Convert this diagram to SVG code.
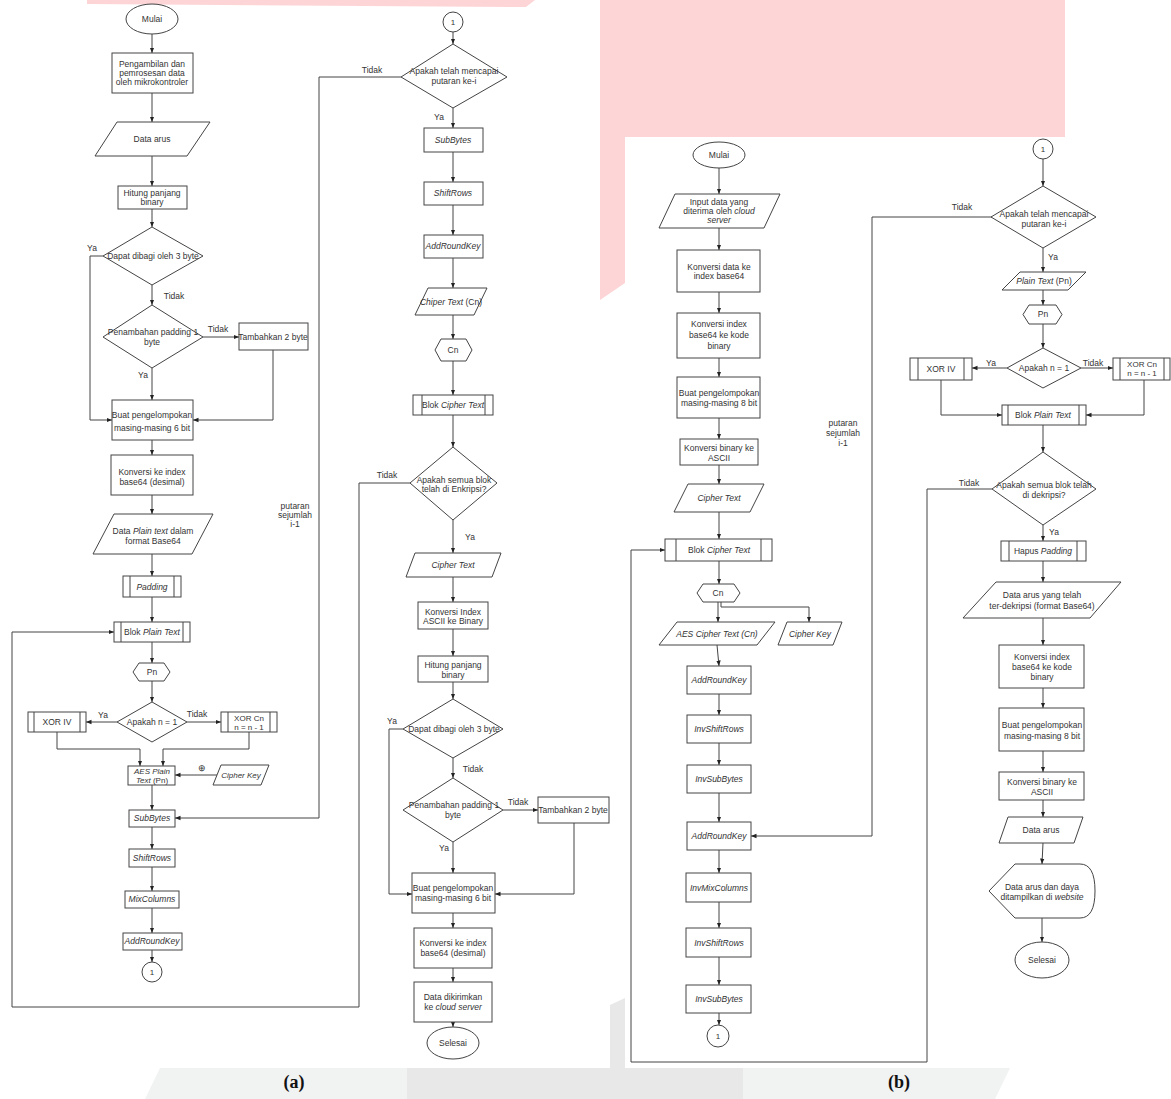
<svg xmlns="http://www.w3.org/2000/svg" width="1171" height="1099" viewBox="0 0 1171 1099">
<defs>
<marker id="ah" viewBox="0 0 10 10" refX="10" refY="5" markerWidth="5.5" markerHeight="5.5" orient="auto"><path d="M0,1 L10,5 L0,9 z" fill="#222"/></marker>
<style>
.bg{stroke:none}
.sh{fill:#fff;stroke:#444;stroke-width:1}
.ln{fill:none;stroke:#444;stroke-width:1}
.ar{fill:none;stroke:#444;stroke-width:1;marker-end:url(#ah)}
.t{font-family:"Liberation Sans",Arial,sans-serif;font-size:8.5px;fill:#333;text-anchor:middle}
.s{font-size:8px}
.i{font-style:italic}
.cap{font-family:"Liberation Serif","Times New Roman",serif;font-size:18px;font-weight:bold;fill:#111;text-anchor:middle}
</style>
</defs>
<rect width="1171" height="1099" fill="#fff"/>
<g id="background">
<polygon class="bg" fill="#fdd5d7" points="87,0 535,0 526,7 87,4"/>
<polygon class="bg" fill="#fdd5d7" points="600,0 1065,0 1065,137 625,137 625,283 600,300"/>
<polygon class="bg" fill="#f1f2f2" points="160,1068 1010,1068 995,1099 145,1099"/>
<polygon class="bg" fill="#e8e8e8" points="407,1068 743,1068 743,1099 407,1099"/>
<polygon class="bg" fill="#e8e8e8" points="610,1005 625,998 625,1068 610,1068"/>
</g>
<g id="connectors">
<path class="ar" d="M152,34 V53"/>
<path class="ar" d="M152,93 V122"/>
<path class="ar" d="M152,156 V186"/>
<path class="ar" d="M152,209 V227"/>
<path class="ar" d="M103,256 H90 V420 H112"/>
<path class="ar" d="M152,285 V305"/>
<path class="ar" d="M203,337 H239"/>
<path class="ar" d="M273,350 V420 H193"/>
<path class="ar" d="M152,368 V400"/>
<path class="ar" d="M152,440 V455"/>
<path class="ar" d="M152,495 V514"/>
<path class="ar" d="M152,554 V576"/>
<path class="ar" d="M152,597 V622"/>
<path class="ar" d="M152,642 V663"/>
<path class="ar" d="M152,681 V702"/>
<path class="ar" d="M117,722 H86"/>
<path class="ar" d="M187,722 H221"/>
<path class="ar" d="M57,732 V749 H140 V766"/>
<path class="ar" d="M249,732 V749 H163 V766"/>
<path class="ar" d="M217,775 H175"/>
<path class="ar" d="M152,785 V810"/>
<path class="ar" d="M152,827 V849"/>
<path class="ar" d="M152,867 V891"/>
<path class="ar" d="M152,908 V933"/>
<path class="ar" d="M152,950 V962"/>
<path class="ar" d="M401,77 H319 V818 H175"/>
<path class="ar" d="M410,483 H359 V1007 H12 V632 H114"/>
<path class="ar" d="M453,32 V44"/>
<path class="ar" d="M453,108 V128"/>
<path class="ar" d="M453,152 V182"/>
<path class="ar" d="M453,205 V235"/>
<path class="ar" d="M453,258 V288"/>
<path class="ar" d="M453,315 V339"/>
<path class="ar" d="M453,361 V395"/>
<path class="ar" d="M453,415 V447"/>
<path class="ar" d="M453,520 V553"/>
<path class="ar" d="M453,577 V602"/>
<path class="ar" d="M453,629 V656"/>
<path class="ar" d="M453,682 V699"/>
<path class="ar" d="M403,729 H389 V894 H412"/>
<path class="ar" d="M453,758 V778"/>
<path class="ar" d="M503,810 H538"/>
<path class="ar" d="M574,823 V894 H495"/>
<path class="ar" d="M453,842 V873"/>
<path class="ar" d="M453,913 V928"/>
<path class="ar" d="M453,968 V982"/>
<path class="ar" d="M453,1022 V1027"/>
<path class="ar" d="M719,168 V194"/>
<path class="ar" d="M719,228 V250"/>
<path class="ar" d="M719,292 V313"/>
<path class="ar" d="M719,358 V377"/>
<path class="ar" d="M719,418 V439"/>
<path class="ar" d="M719,465 V484"/>
<path class="ar" d="M719,512 V539"/>
<path class="ar" d="M992,489 H927 V1062 H631 V550 H665"/>
<path class="ar" d="M719,561 V584"/>
<path class="ar" d="M718,602 V622"/>
<path class="ar" d="M721,602 V607 H809 V622"/>
<path class="ar" d="M717,645 L719,666"/>
<path class="ar" d="M719,694 V715"/>
<path class="ar" d="M719,743 V765"/>
<path class="ar" d="M719,793 V822"/>
<path class="ar" d="M992,217 H872 V836 H751"/>
<path class="ar" d="M719,850 V873"/>
<path class="ar" d="M719,902 V928"/>
<path class="ar" d="M719,957 V985"/>
<path class="ar" d="M719,1013 V1025"/>
<path class="ar" d="M1043,159 V186"/>
<path class="ar" d="M1043,248 V272"/>
<path class="ar" d="M1043,290 V305"/>
<path class="ar" d="M1043,324 V348"/>
<path class="ar" d="M1007,368 H972"/>
<path class="ar" d="M1081,368 H1113"/>
<path class="ar" d="M941,380 V415 H1002"/>
<path class="ar" d="M1144,380 V415 H1086"/>
<path class="ar" d="M1043,425 V452"/>
<path class="ar" d="M1043,525 V541"/>
<path class="ar" d="M1043,561 V582"/>
<path class="ar" d="M1043,618 V645"/>
<path class="ar" d="M1043,688 V708"/>
<path class="ar" d="M1043,751 V772"/>
<path class="ar" d="M1043,800 V817"/>
<path class="ar" d="M1043,843 L1042,864"/>
<path class="ar" d="M1042,918 V942"/>
</g>
<g id="labels">
<text class="t" x="92" y="251">Ya</text>
<text class="t" x="174" y="299">Tidak</text>
<text class="t" x="218" y="332">Tidak</text>
<text class="t" x="143" y="378">Ya</text>
<text class="t" x="103" y="718">Ya</text>
<text class="t" x="197" y="717">Tidak</text>
<text class="t" x="202" y="771" style="font-size:9px">⊕</text>
<text class="t" x="372" y="73">Tidak</text>
<text class="t" x="439" y="120">Ya</text>
<text class="t" x="387" y="478">Tidak</text>
<text class="t" x="470" y="540">Ya</text>
<text class="t" x="392" y="724">Ya</text>
<text class="t" x="473" y="772">Tidak</text>
<text class="t" x="518" y="805">Tidak</text>
<text class="t" x="444" y="851">Ya</text>
<text class="t" x="295" y="509">putaran</text>
<text class="t" x="295" y="518">sejumlah</text>
<text class="t" x="295" y="527">i-1</text>
<text class="t" x="843" y="426">putaran</text>
<text class="t" x="843" y="436">sejumlah</text>
<text class="t" x="843" y="446">i-1</text>
<text class="t" x="962" y="210">Tidak</text>
<text class="t" x="1053" y="260">Ya</text>
<text class="t" x="991" y="366">Ya</text>
<text class="t" x="1093" y="366">Tidak</text>
<text class="t" x="969" y="486">Tidak</text>
<text class="t" x="1054" y="535">Ya</text>
<text class="cap" x="294" y="1088">(a)</text>
<text class="cap" x="899" y="1088">(b)</text>
</g>
<g id="a-mulai"><ellipse class="sh" cx="152" cy="19" rx="26" ry="15"/><text class="t" x="152" y="22">Mulai</text></g>
<g id="a-ambil"><rect class="sh" x="112" y="53" width="81" height="40"/><text class="t" x="152" y="67">Pengambilan dan</text><text class="t" x="152" y="76">pemrosesan data</text><text class="t" x="152" y="85">oleh mikrokontroler</text></g>
<g id="a-dataarus"><polygon class="sh" points="117,122 210,122 187,156 95,156"/><text class="t" x="152" y="142">Data arus</text></g>
<g id="a-hitung"><rect class="sh" x="118" y="186" width="69" height="23"/><text class="t" x="152" y="196">Hitung panjang</text><text class="t" x="152" y="205">binary</text></g>
<g id="a-dapat"><polygon class="sh" points="152,227 203,256 152,285 103,256"/><text class="t" x="153" y="259">Dapat dibagi oleh 3 byte</text></g>
<g id="a-penambahan"><polygon class="sh" points="152,305 203,337 152,368 103,337"/><text class="t" x="153" y="335">Penambahan padding 1</text><text class="t" x="152" y="345">byte</text></g>
<g id="a-tambah"><rect class="sh" x="239" y="323" width="69" height="27"/><text class="t" x="273" y="340">Tambahkan 2 byte</text></g>
<g id="a-buat"><rect class="sh" x="112" y="400" width="81" height="40"/><text class="t" x="152" y="418">Buat pengelompokan</text><text class="t" x="152" y="431">masing-masing 6 bit</text></g>
<g id="a-konversi"><rect class="sh" x="111" y="455" width="82" height="40"/><text class="t" x="152" y="475">Konversi ke index</text><text class="t" x="152" y="485">base64 (desimal)</text></g>
<g id="a-dataplain"><polygon class="sh" points="114,514 213,514 192,554 93,554"/><text class="t" x="153" y="534">Data <tspan class="i">Plain text</tspan> dalam</text><text class="t" x="153" y="544">format Base64</text></g>
<g id="a-padding"><rect class="sh" x="123" y="576" width="58" height="21"/><path class="ln" d="M130,576 V597 M174,576 V597"/><text class="t i" x="152" y="590">Padding</text></g>
<g id="a-blokplain"><rect class="sh" x="114" y="622" width="76" height="20"/><path class="ln" d="M121,622 V642 M183,622 V642"/><text class="t" x="152" y="635">Blok <tspan class="i">Plain Text</tspan></text></g>
<g id="a-pn"><polygon class="sh" points="139,663 164,663 170,672 164,681 139,681 133,672"/><text class="t" x="152" y="675">Pn</text></g>
<g id="a-apakahn"><polygon class="sh" points="152,702 187,722 152,742 117,722"/><text class="t" x="152" y="725">Apakah n = 1</text></g>
<g id="a-xoriv"><rect class="sh" x="28" y="712" width="58" height="20"/><path class="ln" d="M34,712 V732 M80,712 V732"/><text class="t" x="57" y="725">XOR IV</text></g>
<g id="a-xorcn"><rect class="sh" x="221" y="712" width="56" height="20"/><path class="ln" d="M228,712 V732 M270,712 V732"/><text class="t s" x="249" y="721">XOR Cn</text><text class="t s" x="249" y="730">n = n - 1</text></g>
<g id="a-aesplain"><rect class="sh" x="128" y="766" width="47" height="19"/><text class="t s i" x="152" y="774">AES Plain</text><text class="t s" x="152" y="783"><tspan class="i">Text</tspan> (Pn)</text></g>
<g id="a-cipherkey"><polygon class="sh" points="221,765 269,765 261,785 213,785"/><text class="t s i" x="241" y="778">Cipher Key</text></g>
<g id="a-subbytes"><rect class="sh" x="129" y="810" width="46" height="17"/><text class="t i" x="152" y="821">SubBytes</text></g>
<g id="a-shiftrows"><rect class="sh" x="129" y="849" width="46" height="18"/><text class="t i" x="152" y="861">ShiftRows</text></g>
<g id="a-mixcolumns"><rect class="sh" x="125" y="891" width="54" height="17"/><text class="t i" x="152" y="902">MixColumns</text></g>
<g id="a-addroundkey"><rect class="sh" x="123" y="933" width="59" height="17"/><text class="t i" x="152" y="944">AddRoundKey</text></g>
<g id="a-con1"><circle class="sh" cx="152" cy="972" r="10"/><text class="t s" x="152" y="975">1</text></g>
<g id="a2-con1"><circle class="sh" cx="453" cy="22" r="10"/><text class="t s" x="453" y="25">1</text></g>
<g id="a2-putaran"><polygon class="sh" points="453,44 507,77 453,108 401,77"/><text class="t" x="454" y="74">Apakah telah mencapai</text><text class="t" x="454" y="84">putaran ke-i</text></g>
<g id="a2-subbytes"><rect class="sh" x="424" y="128" width="59" height="24"/><text class="t i" x="453" y="143">SubBytes</text></g>
<g id="a2-shiftrows"><rect class="sh" x="424" y="182" width="59" height="23"/><text class="t i" x="453" y="196">ShiftRows</text></g>
<g id="a2-addroundkey"><rect class="sh" x="424" y="235" width="59" height="23"/><text class="t i" x="453" y="249">AddRoundKey</text></g>
<g id="a2-chiper"><polygon class="sh" points="428,288 487,288 474,315 415,315"/><text class="t" x="451" y="305"><tspan class="i">Chiper Text</tspan> (Cn)</text></g>
<g id="a2-cn"><polygon class="sh" points="441,339 466,339 472,350 466,361 441,361 435,350"/><text class="t" x="453" y="353">Cn</text></g>
<g id="a2-blokcipher"><rect class="sh" x="413" y="395" width="80" height="20"/><path class="ln" d="M422,395 V415 M485,395 V415"/><text class="t" x="453" y="408">Blok <tspan class="i">Cipher Text</tspan></text></g>
<g id="a2-semua"><polygon class="sh" points="453,447 497,483 453,520 410,483"/><text class="t" x="454" y="483">Apakah semua blok</text><text class="t" x="454" y="492">telah di Enkripsi?</text></g>
<g id="a2-ciphertext"><polygon class="sh" points="415,553 501,553 492,577 406,577"/><text class="t i" x="453" y="568">Cipher Text</text></g>
<g id="a2-konvascii"><rect class="sh" x="418" y="602" width="70" height="27"/><text class="t" x="453" y="615">Konversi Index</text><text class="t" x="453" y="624">ASCII ke Binary</text></g>
<g id="a2-hitung"><rect class="sh" x="418" y="656" width="70" height="26"/><text class="t" x="453" y="668">Hitung panjang</text><text class="t" x="453" y="678">binary</text></g>
<g id="a2-dapat"><polygon class="sh" points="453,699 503,729 453,758 403,729"/><text class="t" x="454" y="732">Dapat dibagi oleh 3 byte</text></g>
<g id="a2-penambahan"><polygon class="sh" points="453,778 503,810 453,842 403,810"/><text class="t" x="454" y="808">Penambahan padding 1</text><text class="t" x="453" y="818">byte</text></g>
<g id="a2-tambah"><rect class="sh" x="538" y="797" width="71" height="26"/><text class="t" x="573" y="813">Tambahkan 2 byte</text></g>
<g id="a2-buat"><rect class="sh" x="412" y="873" width="83" height="40"/><text class="t" x="453" y="891">Buat pengelompokan</text><text class="t" x="453" y="901">masing-masing 6 bit</text></g>
<g id="a2-konversi"><rect class="sh" x="414" y="928" width="78" height="40"/><text class="t" x="453" y="946">Konversi ke index</text><text class="t" x="453" y="956">base64 (desimal)</text></g>
<g id="a2-kirim"><rect class="sh" x="414" y="982" width="78" height="40"/><text class="t" x="453" y="1000">Data dikirimkan</text><text class="t" x="453" y="1010">ke <tspan class="i">cloud server</tspan></text></g>
<g id="a2-selesai"><ellipse class="sh" cx="453" cy="1043" rx="26" ry="16"/><text class="t" x="453" y="1046">Selesai</text></g>
<g id="b-mulai"><ellipse class="sh" cx="719" cy="155" rx="26" ry="13"/><text class="t" x="719" y="158">Mulai</text></g>
<g id="b-input"><polygon class="sh" points="675,194 780,194 764,228 659,228"/><text class="t" x="719" y="205">Input data yang</text><text class="t" x="719" y="214">diterima oleh <tspan class="i">cloud</tspan></text><text class="t i" x="719" y="223">server</text></g>
<g id="b-konvdata"><rect class="sh" x="677" y="250" width="83" height="42"/><text class="t" x="719" y="270">Konversi data ke</text><text class="t" x="719" y="279">index base64</text></g>
<g id="b-konvindex"><rect class="sh" x="677" y="313" width="83" height="45"/><text class="t" x="719" y="327">Konversi index</text><text class="t" x="719" y="338">base64 ke kode</text><text class="t" x="719" y="349">binary</text></g>
<g id="b-buat"><rect class="sh" x="677" y="377" width="83" height="41"/><text class="t" x="719" y="396">Buat pengelompokan</text><text class="t" x="719" y="406">masing-masing 8 bit</text></g>
<g id="b-konvbin"><rect class="sh" x="680" y="439" width="78" height="26"/><text class="t" x="719" y="451">Konversi binary ke</text><text class="t" x="719" y="461">ASCII</text></g>
<g id="b-ciphertext"><polygon class="sh" points="688,484 764,484 750,512 674,512"/><text class="t i" x="719" y="501">Cipher Text</text></g>
<g id="b-blokcipher"><rect class="sh" x="665" y="539" width="107" height="22"/><path class="ln" d="M676,539 V561 M761,539 V561"/><text class="t" x="719" y="553">Blok <tspan class="i">Cipher Text</tspan></text></g>
<g id="b-cn"><polygon class="sh" points="703,584 734,584 740,593 734,602 703,602 697,593"/><text class="t" x="718" y="596">Cn</text></g>
<g id="b-aescipher"><polygon class="sh" points="677,622 775,622 757,645 659,645"/><text class="t i" x="717" y="637">AES Cipher Text (Cn)</text></g>
<g id="b-cipherkey"><polygon class="sh" points="787,622 842,622 833,645 778,645"/><text class="t i" x="810" y="637">Cipher Key</text></g>
<g id="b-addroundkey1"><rect class="sh" x="687" y="666" width="64" height="28"/><text class="t i" x="719" y="683">AddRoundKey</text></g>
<g id="b-invshift1"><rect class="sh" x="687" y="715" width="64" height="28"/><text class="t i" x="719" y="732">InvShiftRows</text></g>
<g id="b-invsub1"><rect class="sh" x="687" y="765" width="64" height="28"/><text class="t i" x="719" y="782">InvSubBytes</text></g>
<g id="b-addroundkey2"><rect class="sh" x="687" y="822" width="64" height="28"/><text class="t i" x="719" y="839">AddRoundKey</text></g>
<g id="b-invmix"><rect class="sh" x="686" y="873" width="65" height="29"/><text class="t i" x="719" y="891">InvMixColumns</text></g>
<g id="b-invshift2"><rect class="sh" x="686" y="928" width="65" height="29"/><text class="t i" x="719" y="946">InvShiftRows</text></g>
<g id="b-invsub2"><rect class="sh" x="686" y="985" width="65" height="28"/><text class="t i" x="719" y="1002">InvSubBytes</text></g>
<g id="b-con1"><circle class="sh" cx="718" cy="1036" r="11"/><text class="t s" x="718" y="1039">1</text></g>
<g id="b2-con1"><circle class="sh" cx="1043" cy="149" r="10"/><text class="t s" x="1043" y="152">1</text></g>
<g id="b2-putaran"><polygon class="sh" points="1043,186 1096,217 1043,248 991,217"/><text class="t" x="1044" y="217">Apakah telah mencapai</text><text class="t" x="1044" y="227">putaran ke-i</text></g>
<g id="b2-plaintext"><polygon class="sh" points="1020,272 1086,272 1068,290 1002,290"/><text class="t" x="1044" y="284"><tspan class="i">Plain Text</tspan> (Pn)</text></g>
<g id="b2-pn"><polygon class="sh" points="1029,305 1056,305 1062,314.5 1056,324 1029,324 1023,314.5"/><text class="t" x="1043" y="317">Pn</text></g>
<g id="b2-apakahn"><polygon class="sh" points="1043,348 1081,368 1043,388 1007,368"/><text class="t" x="1044" y="371">Apakah n = 1</text></g>
<g id="b2-xoriv"><rect class="sh" x="910" y="358" width="62" height="22"/><path class="ln" d="M918,358 V380 M964,358 V380"/><text class="t" x="941" y="372">XOR IV</text></g>
<g id="b2-xorcn"><rect class="sh" x="1113" y="358" width="57" height="22"/><path class="ln" d="M1120,358 V380 M1164,358 V380"/><text class="t s" x="1142" y="367">XOR Cn</text><text class="t s" x="1142" y="376">n = n - 1</text></g>
<g id="b2-blokplain"><rect class="sh" x="1002" y="405" width="84" height="20"/><path class="ln" d="M1008,405 V425 M1079,405 V425"/><text class="t" x="1043" y="418">Blok <tspan class="i">Plain Text</tspan></text></g>
<g id="b2-semua"><polygon class="sh" points="1043,452 1096,489 1043,525 992,489"/><text class="t" x="1044" y="488">Apakah semua blok telah</text><text class="t" x="1044" y="498">di dekripsi?</text></g>
<g id="b2-hapus"><rect class="sh" x="1001" y="541" width="85" height="20"/><path class="ln" d="M1009,541 V561 M1077,541 V561"/><text class="t" x="1043" y="554">Hapus <tspan class="i">Padding</tspan></text></g>
<g id="b2-dataterdek"><polygon class="sh" points="996,582 1121,582 1090,618 963,618"/><text class="t" x="1042" y="598">Data arus yang telah</text><text class="t" x="1042" y="609">ter-dekripsi (format Base64)</text></g>
<g id="b2-konvindex"><rect class="sh" x="999" y="645" width="85" height="43"/><text class="t" x="1042" y="660">Konversi index</text><text class="t" x="1042" y="670">base64 ke kode</text><text class="t" x="1042" y="680">binary</text></g>
<g id="b2-buat"><rect class="sh" x="999" y="708" width="85" height="43"/><text class="t" x="1042" y="728">Buat pengelompokan</text><text class="t" x="1042" y="739">masing-masing 8 bit</text></g>
<g id="b2-konvbin"><rect class="sh" x="999" y="772" width="85" height="28"/><text class="t" x="1042" y="785">Konversi binary ke</text><text class="t" x="1042" y="795">ASCII</text></g>
<g id="b2-dataarus"><polygon class="sh" points="1008,817 1083,817 1074,843 999,843"/><text class="t" x="1041" y="833">Data arus</text></g>
<g id="b2-display"><path class="sh" d="M989,891 L1015,864 L1080,864 Q1095,864 1095,891 Q1095,918 1080,918 L1015,918 Z"/><text class="t" x="1042" y="890">Data arus dan daya</text><text class="t" x="1042" y="900">ditampilkan di <tspan class="i">website</tspan></text></g>
<g id="b2-selesai"><ellipse class="sh" cx="1042" cy="960" rx="27" ry="18"/><text class="t" x="1042" y="963">Selesai</text></g>
</svg>
